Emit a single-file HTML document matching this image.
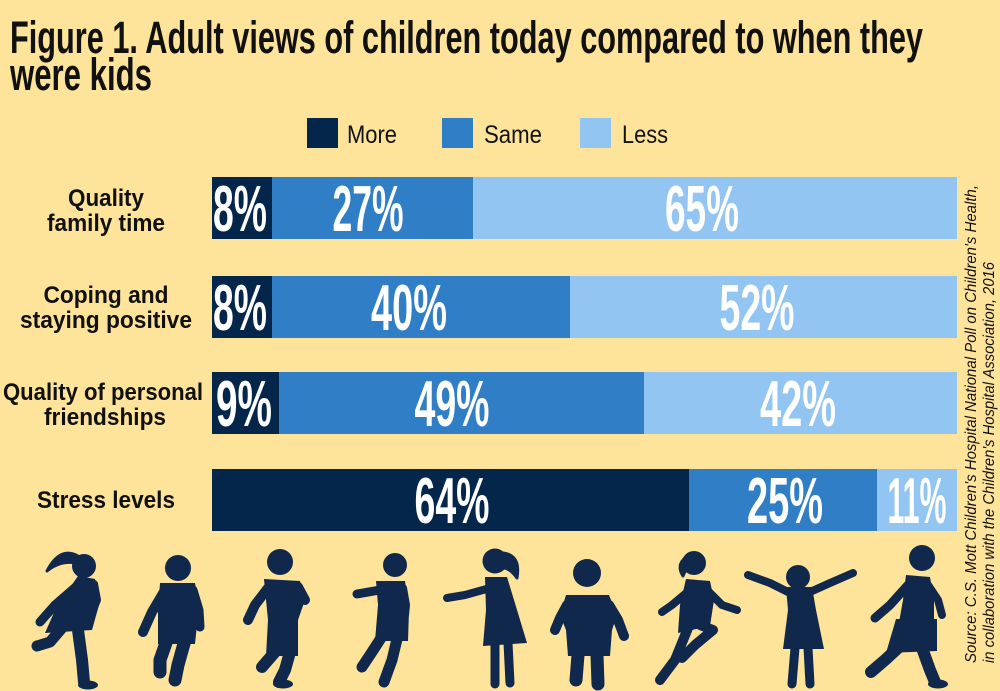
<!DOCTYPE html>
<html><head><meta charset="utf-8"><style>
html,body{margin:0;padding:0;background:#fee39b;}
svg{display:block;}
</style></head><body>
<svg width="1000" height="691" viewBox="0 0 1000 691" xmlns="http://www.w3.org/2000/svg">
<rect x="0" y="0" width="1000" height="691" fill="#fee39b"/>
<!-- Title -->
<g font-family="Liberation Sans, sans-serif" font-weight="700" font-size="45" fill="#111">
<text x="10" y="53" textLength="913" lengthAdjust="spacingAndGlyphs">Figure 1. Adult views of children today compared to when they</text>
<text x="10" y="90" textLength="142" lengthAdjust="spacingAndGlyphs">were kids</text>
</g>
<!-- Legend -->
<g font-family="Liberation Sans, sans-serif" font-size="25" fill="#111">
<rect x="307" y="118" width="31" height="30" fill="#05264b"/>
<text x="347" y="143" textLength="50" lengthAdjust="spacingAndGlyphs">More</text>
<rect x="442" y="118" width="31" height="30" fill="#2f7ec6"/>
<text x="484" y="143" textLength="58" lengthAdjust="spacingAndGlyphs">Same</text>
<rect x="580" y="118" width="31" height="30" fill="#93c5f3"/>
<text x="622" y="143" textLength="46" lengthAdjust="spacingAndGlyphs">Less</text>
</g>
<!-- Category labels -->
<g font-family="Liberation Sans, sans-serif" font-weight="700" font-size="24" fill="#111" text-anchor="middle">
<text x="106" y="206" textLength="76" lengthAdjust="spacingAndGlyphs">Quality</text>
<text x="106" y="231" textLength="118" lengthAdjust="spacingAndGlyphs">family time</text>
<text x="106" y="303" textLength="125" lengthAdjust="spacingAndGlyphs">Coping and</text>
<text x="106" y="328" textLength="172" lengthAdjust="spacingAndGlyphs">staying positive</text>
<text x="103" y="400" textLength="200" lengthAdjust="spacingAndGlyphs">Quality of personal</text>
<text x="105" y="425" textLength="122" lengthAdjust="spacingAndGlyphs">friendships</text>
<text x="106" y="508" textLength="138" lengthAdjust="spacingAndGlyphs">Stress levels</text>
</g>
<!-- Bars -->
<g>
<rect x="212" y="177" width="60" height="62" fill="#05264b"/>
<rect x="272" y="177" width="201" height="62" fill="#2f7ec6"/>
<rect x="473" y="177" width="484" height="62" fill="#93c5f3"/>

<rect x="212" y="276" width="60" height="62" fill="#05264b"/>
<rect x="272" y="276" width="298" height="62" fill="#2f7ec6"/>
<rect x="570" y="276" width="387" height="62" fill="#93c5f3"/>

<rect x="212" y="372" width="67" height="62" fill="#05264b"/>
<rect x="279" y="372" width="365" height="62" fill="#2f7ec6"/>
<rect x="644" y="372" width="313" height="62" fill="#93c5f3"/>

<rect x="212" y="469" width="477" height="62" fill="#05264b"/>
<rect x="689" y="469" width="188" height="62" fill="#2f7ec6"/>
<rect x="877" y="469" width="80" height="62" fill="#93c5f3"/>
</g>
<!-- Percent labels -->
<g font-family="Liberation Sans, sans-serif" font-weight="700" font-size="65" fill="#fff" text-anchor="middle">
<text x="240" y="231" textLength="54" lengthAdjust="spacingAndGlyphs">8%</text>
<text x="368" y="231" textLength="71" lengthAdjust="spacingAndGlyphs">27%</text>
<text x="702" y="231" textLength="74" lengthAdjust="spacingAndGlyphs">65%</text>

<text x="240" y="330" textLength="54" lengthAdjust="spacingAndGlyphs">8%</text>
<text x="409" y="330" textLength="76" lengthAdjust="spacingAndGlyphs">40%</text>
<text x="757" y="330" textLength="75" lengthAdjust="spacingAndGlyphs">52%</text>

<text x="244" y="426" textLength="56" lengthAdjust="spacingAndGlyphs">9%</text>
<text x="452" y="426" textLength="75" lengthAdjust="spacingAndGlyphs">49%</text>
<text x="798" y="426" textLength="76" lengthAdjust="spacingAndGlyphs">42%</text>

<text x="452" y="523" textLength="75" lengthAdjust="spacingAndGlyphs">64%</text>
<text x="785" y="523" textLength="76" lengthAdjust="spacingAndGlyphs">25%</text>
<text x="917" y="523" textLength="59" lengthAdjust="spacingAndGlyphs">11%</text>
</g>
<!-- Source -->
<g font-family="Liberation Sans, sans-serif" font-style="italic" font-size="16" fill="#111">
<text transform="translate(976,663) rotate(-90)" textLength="478" lengthAdjust="spacingAndGlyphs">Source: C.S. Mott Children's Hospital National Poll on Children's Health,</text>
<text transform="translate(994,663) rotate(-90)" textLength="401" lengthAdjust="spacingAndGlyphs">in collaboration with the Children's Hospital Association, 2016</text>
</g>
<!-- Silhouettes -->
<g fill="#10284c" stroke="#10284c" stroke-linecap="round" stroke-linejoin="round">
<!-- 1 girl running -->
<circle cx="84" cy="566" r="12" stroke="none"/>
<path d="M78,556 Q60,546 47,571 Q60,560 77,563 Z" stroke-width="3"/>
<path d="M78,576 L95,579 L99,605 L92,630 L45,633 L56,608 Z" stroke="none"/>
<polyline points="78,585 55,605 40,622" fill="none" stroke-width="9"/>
<polyline points="94,584 97,600 92,612" fill="none" stroke-width="8"/>
<polyline points="62,628 50,642 37,646" fill="none" stroke-width="11"/>
<polyline points="78,630 82,660 84,682" fill="none" stroke-width="12"/>
<ellipse cx="88" cy="685" rx="10" ry="4.5" stroke="none"/>
<!-- 2 boy running -->
<circle cx="178" cy="568" r="13" stroke="none"/>
<path d="M160,583 L195,583 L199,605 L195,644 L158,644 L158,610 Z" stroke="none"/>
<polyline points="165,590 152,612 143,632" fill="none" stroke-width="10"/>
<polyline points="193,590 199,610 200,627" fill="none" stroke-width="9"/>
<polyline points="167,640 160,660 160,672" fill="none" stroke-width="13"/>
<polyline points="185,640 178,665 175,680" fill="none" stroke-width="13"/>
<!-- 3 boy walking -->
<circle cx="280" cy="562" r="13" stroke="none"/>
<path d="M264,579 L300,581 L305,600 L298,620 L298,656 L266,656 L268,620 Z" stroke="none"/>
<polyline points="268,588 255,605 248,620" fill="none" stroke-width="10"/>
<polyline points="298,587 305,600" fill="none" stroke-width="10"/>
<polyline points="275,652 262,667" fill="none" stroke-width="12"/>
<polyline points="290,652 285,670 279,682" fill="none" stroke-width="12"/>
<ellipse cx="283" cy="684" rx="10" ry="4.5" stroke="none"/>
<!-- 4 child -->
<circle cx="395" cy="565" r="12" stroke="none"/>
<path d="M376,581 L405,581 L409,610 L408,641 L375,641 L378,605 Z" stroke="none"/>
<polyline points="380,590 357,594" fill="none" stroke-width="9"/>
<polyline points="403,588 406,605 405,615" fill="none" stroke-width="8"/>
<polyline points="383,635 370,655 362,667" fill="none" stroke-width="11"/>
<polyline points="398,635 392,660 384,682" fill="none" stroke-width="11"/>
<!-- 5 girl arm out -->
<circle cx="495" cy="561" r="12.5" stroke="none"/>
<path d="M503,553 Q521,555 517,578 Q510,568 503,568 Z" stroke-width="3"/>
<path d="M485,577 L507,577 L514,600 L527,643 L483,646 L486,610 Z" stroke="none"/>
<polyline points="490,588 465,595 447,598" fill="none" stroke-width="8"/>
<polyline points="495,643 495,684" fill="none" stroke-width="9"/>
<polyline points="508,643 510,683" fill="none" stroke-width="9"/>
<!-- 6 boy chubby -->
<circle cx="587" cy="573" r="14" stroke="none"/>
<path d="M566,595 L609,595 L617,615 L612,630 L610,656 L568,656 L566,630 L560,615 Z" stroke="none"/>
<polyline points="567,605 560,618 555,630" fill="none" stroke-width="10"/>
<polyline points="609,605 618,620 624,636" fill="none" stroke-width="10"/>
<polyline points="578,655 576,680" fill="none" stroke-width="13"/>
<polyline points="597,655 598,684" fill="none" stroke-width="13"/>
<!-- 7 girl jumping -->
<circle cx="694" cy="563" r="12" stroke="none"/>
<path d="M686,557 Q676,565 683,576 Q686,568 690,566 Z" stroke-width="3"/>
<path d="M686,579 L710,581 L714,600 L710,626 L678,633 L680,605 Z" stroke="none"/>
<polyline points="690,590 672,605 662,612" fill="none" stroke-width="8"/>
<polyline points="707,590 722,605 737,610" fill="none" stroke-width="8"/>
<polyline points="700,625 713,630 695,645 682,658" fill="none" stroke-width="10"/>
<polyline points="688,628 675,660 660,680" fill="none" stroke-width="10"/>
<!-- 8 girl arms wide -->
<circle cx="798" cy="577" r="12" stroke="none"/>
<polyline points="788,592 770,583 748,575" fill="none" stroke-width="8"/>
<polyline points="810,592 830,583 853,573" fill="none" stroke-width="8"/>
<path d="M786,587 L812,587 L816,610 L824,649 L783,649 L788,610 Z" stroke="none"/>
<polyline points="795,648 792,684" fill="none" stroke-width="9"/>
<polyline points="808,648 810,684" fill="none" stroke-width="9"/>
<!-- 9 boy walking -->
<circle cx="922" cy="558" r="13" stroke="none"/>
<path d="M906,575 L930,577 L934,600 L934,625 L898,628 L903,600 Z" stroke="none"/>
<path d="M896,619 L937,619 L937,651 L886,653 Z" stroke="none"/>
<polyline points="908,585 890,605 875,618" fill="none" stroke-width="9"/>
<polyline points="928,585 938,600 942,615" fill="none" stroke-width="8"/>
<polyline points="898,648 885,660 871,672" fill="none" stroke-width="12"/>
<polyline points="922,648 930,670 935,682" fill="none" stroke-width="12"/>
<ellipse cx="938" cy="684" rx="10" ry="4.5" stroke="none"/>
</g>
</svg>
</body></html>
